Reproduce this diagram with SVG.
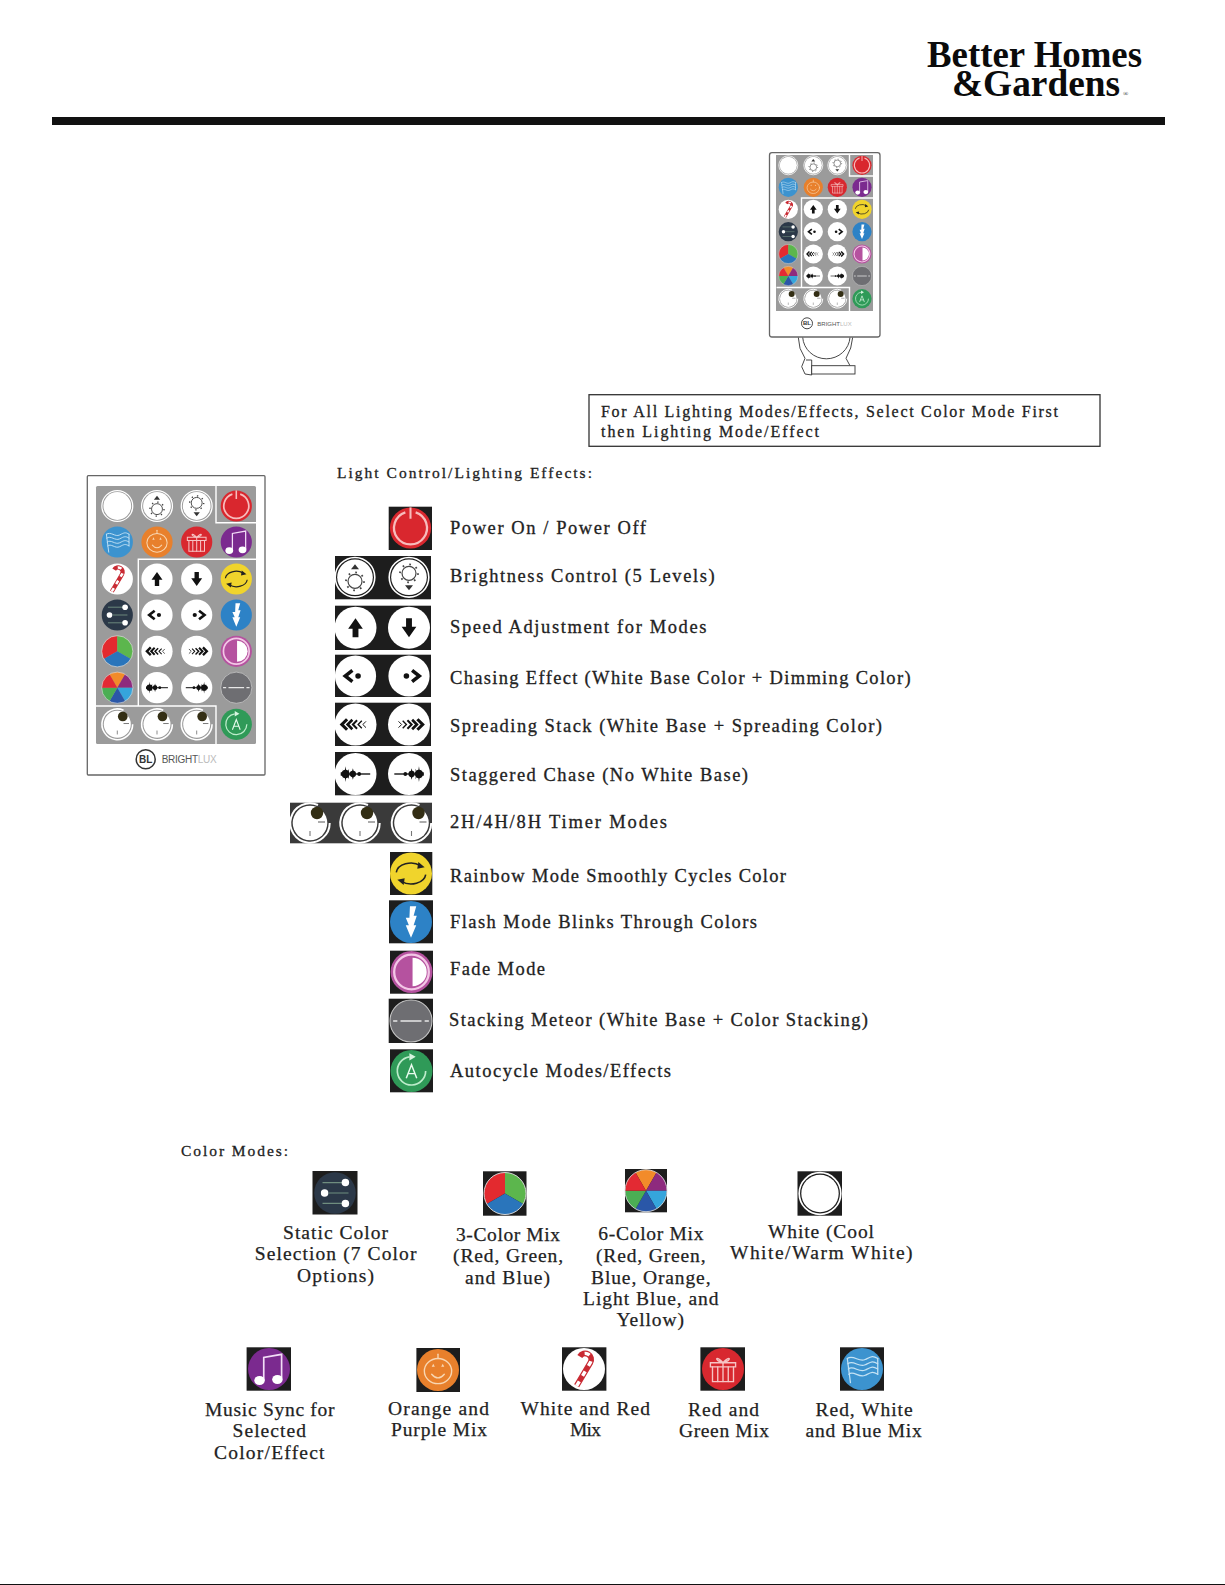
<svg xmlns="http://www.w3.org/2000/svg" xmlns:xlink="http://www.w3.org/1999/xlink" width="1225" height="1585" viewBox="0 0 1225 1585">
<style>
text{font-family:"Liberation Serif","Times New Roman",serif;fill:#222}
.l{font-size:18.500px;stroke:#222;stroke-width:.3}
.h{font-size:15.500px;stroke:#222;stroke-width:.3}
.c{font-size:19.500px;stroke:#222;stroke-width:.25}
.b{font-size:16px;stroke:#222;stroke-width:.3}
.logo{font-weight:bold;fill:#0b0b0b}
.tile{fill:#1d1d1d}
.ring{fill:none;stroke:#fff;stroke-width:1.6}
.pale{fill:none;stroke-linecap:round}
.panel{fill:#9b9b9b}
.shell{fill:#fff;stroke:#666;stroke-width:1.3}
.sep{fill:none;stroke:#fff;stroke-width:1.4}
.bt{font-family:"Liberation Sans",Arial,sans-serif;fill:#555}
</style>
<defs>
<g id="sunU"><circle r="7" fill="none" stroke="#444" stroke-width="1.200"/><circle r="9" fill="none" stroke="#444" stroke-width="1.800" stroke-dasharray="1.700 5.370"/></g>
<g id="i-white"><circle r="19.800" class="ring"/><circle r="17.800" fill="#fff"/></g>
<g id="i-bup"><circle r="19.800" class="ring"/><circle r="17.800" fill="#fff"/><use xlink:href="#sunU" y="4"/><path d="M-4,-8 L4,-8 L0,-13Z" fill="#333"/></g>
<g id="i-bdn"><circle r="19.800" class="ring"/><circle r="17.800" fill="#fff"/><use xlink:href="#sunU" y="-4"/><path d="M-4,8 L4,8 L0,13Z" fill="#333"/></g>
<g id="i-power"><circle r="20" fill="#d9272e"/><path d="M-5,-15.200 A16,16 0 1 0 5,-15.200" fill="none" stroke="#f7bcbc" stroke-width="2.200"/><path d="M0,-20 V-9" stroke="#f7bcbc" stroke-width="2"/></g>
<g id="i-flag"><circle r="20" fill="#3c93cf"/><g class="pale" stroke="#c4e2f4" stroke-width="1.200"><path d="M-14,-10 L-11,13"/><path d="M-14,-10 C-8,-14 -3,-6 3,-9 S10,-13 15,-10"/><path d="M-13.500,-5 C-8,-9 -3,-1 3,-4 S10,-8 15,-5"/><path d="M-13,0 C-8,-4 -3,4 3,1 S10,-3 15,0"/><path d="M-12.500,5 C-8,1 -3,9 3,6 S10,2 15,5"/><path d="M15,-10 V5"/></g></g>
<g id="i-pumpkin"><circle r="20" fill="#e8802c"/><g class="pale" stroke="#f8d6b2" stroke-width="1.300"><ellipse cy="1" rx="13" ry="12"/><path d="M0,-11 V-15"/><path d="M-6,4 Q0,11 6,4"/></g><path d="M-6,-3 L-3,-3 L-4.500,-6Z M3,-3 L6,-3 L4.500,-6Z" fill="#f8d6b2"/></g>
<g id="i-gift"><circle r="20" fill="#d8282f"/><g class="pale" stroke="#f6c4c4" stroke-width="1.300"><path d="M-12,-6 H12 V-2 H-12Z"/><path d="M-10,-2 V12 H10 V-2"/><path d="M-5,-2 V12 M0,-6 V12 M5,-2 V12"/><path d="M0,-6 C-7,-14 -9,-8 0,-6 C7,-14 9,-8 0,-6"/></g></g>
<g id="i-music"><circle r="20" fill="#7b2a8f"/><path d="M-5,11 V-11 L12,-14 V9" fill="none" stroke="#f2dcf6" stroke-width="1.600"/><ellipse cx="-9" cy="11" rx="5" ry="4.300" fill="#fff"/><ellipse cx="8" cy="10" rx="5" ry="4.300" fill="#fff"/></g>
<g id="i-cane"><circle r="20" fill="#fff"/><path d="M-7,16 L6,-6 A5.500,5.500 0 0 0 -4,-12" fill="none" stroke="#c92a33" stroke-width="5.500"/><path d="M-7,16 L6,-6 A5.500,5.500 0 0 0 -4,-12" fill="none" stroke="#fff" stroke-width="3.200" stroke-dasharray="5 6"/></g>
<g id="i-static"><circle r="20" fill="#2b3848"/><path d="M-12,-10 H8 M-6,0 H13 M-12,10 H8" stroke="#6f8d7f" stroke-width="1.200"/><circle cx="10" cy="-10" r="3.600" fill="#fff"/><circle cx="-10" cy="0" r="3.600" fill="#fff"/><circle cx="10" cy="10" r="3.600" fill="#fff"/></g>
<g id="i-mix3"><path d="M0,0 V-20 A20,20 0 0 0 -17.320,10Z" fill="#e32a2f"/><path d="M0,0 V-20 A20,20 0 0 1 17.320,10Z" fill="#5cb64d"/><path d="M0,0 L17.320,10 A20,20 0 0 1 -17.320,10Z" fill="#2a75bb"/><circle r="20" fill="none" stroke="#ddd" stroke-width=".9"/></g>
<g id="i-mix6"><path d="M0,0 L-10,-17.320 A20,20 0 0 1 10,-17.320Z" fill="#f28b2a"/><path d="M0,0 L10,-17.320 A20,20 0 0 1 20,0Z" fill="#8e2a7e"/><path d="M0,0 L20,0 A20,20 0 0 1 10,17.320Z" fill="#35a5dc"/><path d="M0,0 L10,17.320 A20,20 0 0 1 -10,17.320Z" fill="#2a57a8"/><path d="M0,0 L-10,17.320 A20,20 0 0 1 -20,0Z" fill="#4bae54"/><path d="M0,0 L-20,0 A20,20 0 0 1 -10,-17.320Z" fill="#e32a33"/><circle r="20" fill="none" stroke="#ddd" stroke-width=".8"/></g>
<g id="i-up"><circle r="20" fill="#fff"/><path d="M0,-9 L7,1 H2.800 V9 H-2.800 V1 H-7Z" fill="#111"/></g>
<g id="i-down"><circle r="20" fill="#fff"/><path d="M0,9 L7,-1 H2.800 V-9 H-2.800 V-1 H-7Z" fill="#111"/></g>
<g id="i-chL"><circle r="20" fill="#fff"/><path d="M-3,-5.500 L-10,0 L-3,5.500" fill="none" stroke="#111" stroke-width="3.400"/><circle cx="2.500" r="2.700" fill="#111"/></g>
<g id="i-chR"><circle r="20" fill="#fff"/><path d="M3,-5.500 L10,0 L3,5.500" fill="none" stroke="#111" stroke-width="3.400"/><circle cx="-2.500" r="2.700" fill="#111"/></g>
<g id="spm" fill="none" stroke="#111"><path d="M-8,-5 L-13,0 L-8,5" stroke-width="3"/><path d="M-3,-4.500 L-7.500,0 L-3,4.500" stroke-width="2.500"/><path d="M1.500,-4 L-2.500,0 L1.500,4" stroke-width="1.900"/><path d="M6,-3.500 L2.500,0 L6,3.500" stroke-width="1.300"/><path d="M10,-3 L7,0 L10,3" stroke-width=".9"/></g>
<g id="i-spL"><circle r="20" fill="#fff"/><use xlink:href="#spm"/></g>
<g id="i-spR"><circle r="20" fill="#fff"/><use xlink:href="#spm" transform="scale(-1,1)"/></g>
<g id="stm"><path d="M-14,0 H14" stroke="#111" stroke-width="1.300"/><circle cx="-9.500" r="4" fill="#111"/><circle cx="-2.500" r="3" fill="#111"/><circle cx="3.500" r="1.800" fill="#111"/><path d="M-14,-2 L-9.500,0 L-13,-5 L-10.500,-1 L-9.500,-7.500 L-8.500,-1 L-6,-5 L-7,0 L-6,5 L-8.500,1 L-9.500,7.500 L-10.500,1 L-13,5 L-9.500,0 L-14,2Z M-2.500,-5.500 L-1,0 L-2.500,5.500 L-4,0Z" fill="#111"/></g>
<g id="i-stL"><circle r="20" fill="#fff"/><use xlink:href="#stm"/></g>
<g id="i-stR"><circle r="20" fill="#fff"/><use xlink:href="#stm" transform="scale(-1,1)"/></g>
<g id="i-rainbow"><circle r="20" fill="#f0d42c"/><path d="M-14,-1 A14,10 0 0 1 9,-7.500" fill="none" stroke="#222" stroke-width="1.500"/><path d="M7,-11 L13,-6 L6,-4.500Z" fill="#222"/><path d="M14,1 A14,10 0 0 1 -9,7.500" fill="none" stroke="#222" stroke-width="1.500"/><path d="M-7,11 L-13,6 L-6,4.500Z" fill="#222"/></g>
<g id="i-flash"><circle r="20" fill="#2d82c6"/><path d="M-1,-15 L5,-15 L2.500,-6 L5.500,-6 L2.500,3 L5,3 L0,15 L-5,3 L-2,3 L-5,-4 L-1.500,-4Z" fill="#fff"/></g>
<g id="i-fade"><circle r="20" fill="#b5529f"/><circle r="16.500" fill="none" stroke="#f3c6e6" stroke-width="2.200"/><path d="M1,-13.500 A13.500,13.500 0 0 1 1,13.500Z" fill="#fff"/></g>
<g id="i-meteor"><circle r="20" fill="#6e6e72" stroke="#c8c8c8" stroke-width="1"/><path d="M-17,0 H-13 M-10,0 H10 M13,0 H17" stroke="#e8e8e8" stroke-width="1.600"/></g>
<g id="i-timer"><circle r="17.300" fill="#fff"/><path d="M8,-18 A19.700,19.700 0 1 0 19.700,0" fill="none" stroke="#fff" stroke-width="2"/><path d="M0,8 V13" stroke="#777" stroke-width="1.100"/><path d="M8,-1 H15" stroke="#666" stroke-width="1.100"/><circle cx="7" cy="-10" r="6.200" fill="#332e14"/></g>
<g id="i-auto"><circle r="20" fill="#2f9a58"/><path d="M-2,-13.500 A13.500,13.500 0 1 0 13.500,0" fill="none" stroke="#bdeccb" stroke-width="1.600"/><path d="M-2,-17 L4,-13.500 L-2,-10Z" fill="#d8f5e0"/><path d="M-5,7 L0,-6 L5,7 M-3.500,2.500 H3.500" fill="none" stroke="#e8fbee" stroke-width="1.400"/></g>
</defs>

<rect width="1225" height="1585" fill="#fff"/>

<g id="header-logo">
<text class="logo" font-size="38.500"><tspan x="927" y="67" textLength="215" lengthAdjust="spacingAndGlyphs">Better Homes</tspan><tspan x="952" y="96" textLength="168" lengthAdjust="spacingAndGlyphs">&amp;Gardens</tspan></text>
<text x="1123" y="96" font-size="7">®</text>
</g>
<rect id="header-rule" x="52" y="117" width="1113" height="8" fill="#111"/>

<g id="remote-small">
<path d="M798.300,337.300 L800,348.300 L805,358.300 L801.700,366.700 L805,374 L811.700,375 V360 H806 M852.700,337.300 L850.700,348 L846,358.300 L850,365.700 M802.700,337.300 A23.700,23 0 0 0 850,337.300" fill="none" stroke="#333" stroke-width=".9"/>
<rect x="811.700" y="365.700" width="43.300" height="8.300" fill="#fff" stroke="#333" stroke-width=".9"/>
<rect class="shell" x="769.500" y="152.700" width="110.500" height="184.300" rx="2.500"/>
<rect class="panel" x="776" y="155" width="97" height="156"/>
<path class="sep" d="M849.500,155 V176 H873 M801.500,287.500 V198 H873 M776.500,287.500 H849.500 V311"/>
<g transform="translate(788.300,165.300) scale(.48)"><use xlink:href="#i-white"/></g>
<g transform="translate(813.300,165.300) scale(.48)"><use xlink:href="#i-bup"/></g>
<g transform="translate(837.300,165.300) scale(.48)"><use xlink:href="#i-bdn"/></g>
<g transform="translate(862,165.300) scale(.48)"><use xlink:href="#i-power"/></g>
<g transform="translate(788.300,187.300) scale(.48)"><use xlink:href="#i-flag"/></g>
<g transform="translate(813.300,187.300) scale(.48)"><use xlink:href="#i-pumpkin"/></g>
<g transform="translate(837.300,187.300) scale(.48)"><use xlink:href="#i-gift"/></g>
<g transform="translate(862,187.300) scale(.48)"><use xlink:href="#i-music"/></g>
<g transform="translate(788.300,209.300) scale(.48)"><use xlink:href="#i-cane"/></g>
<g transform="translate(813.300,209.300) scale(.48)"><use xlink:href="#i-up"/></g>
<g transform="translate(837.300,209.300) scale(.48)"><use xlink:href="#i-down"/></g>
<g transform="translate(862,209.300) scale(.48)"><use xlink:href="#i-rainbow"/></g>
<g transform="translate(788.300,231.700) scale(.48)"><use xlink:href="#i-static"/></g>
<g transform="translate(813.300,231.700) scale(.48)"><use xlink:href="#i-chL"/></g>
<g transform="translate(837.300,231.700) scale(.48)"><use xlink:href="#i-chR"/></g>
<g transform="translate(862,231.700) scale(.48)"><use xlink:href="#i-flash"/></g>
<g transform="translate(788.300,254) scale(.48)"><use xlink:href="#i-mix3"/></g>
<g transform="translate(813.300,254) scale(.48)"><use xlink:href="#i-spL"/></g>
<g transform="translate(837.300,254) scale(.48)"><use xlink:href="#i-spR"/></g>
<g transform="translate(862,254) scale(.48)"><use xlink:href="#i-fade"/></g>
<g transform="translate(788.300,276) scale(.48)"><use xlink:href="#i-mix6"/></g>
<g transform="translate(813.300,276) scale(.48)"><use xlink:href="#i-stL"/></g>
<g transform="translate(837.300,276) scale(.48)"><use xlink:href="#i-stR"/></g>
<g transform="translate(862,276) scale(.48)"><use xlink:href="#i-meteor"/></g>
<g transform="translate(788.300,298.700) scale(.48)"><use xlink:href="#i-timer"/></g>
<g transform="translate(813.300,298.700) scale(.48)"><use xlink:href="#i-timer"/></g>
<g transform="translate(837.300,298.700) scale(.48)"><use xlink:href="#i-timer"/></g>
<g transform="translate(862,298.700) scale(.48)"><use xlink:href="#i-auto"/></g>
<circle cx="807" cy="323.300" r="5.500" fill="#fff" stroke="#333" stroke-width=".9"/>
<text class="bt" x="807" y="325.300" font-size="6" font-weight="bold" text-anchor="middle" style="fill:#333">BL</text>
<text class="bt" x="817.300" y="326" font-size="6" textLength="34.400">BRIGHT<tspan fill="#bbb">LUX</tspan></text>
</g>

<g id="note-box">
<rect x="589" y="394.700" width="511" height="51.600" fill="#fff" stroke="#333" stroke-width="1.300"/>
<text class="b" x="601" y="416.500" textLength="457">For All Lighting Modes/Effects, Select Color Mode First</text>
<text class="b" x="601" y="436.500" textLength="218">then Lighting Mode/Effect</text>
</g>

<g id="remote-large">
<rect class="shell" x="87.300" y="475.700" width="177.700" height="299.300" rx="1"/>
<rect class="panel" x="96" y="486" width="160" height="258" rx="1.500"/>
<path class="sep" d="M216,486 V522.700 H256 M138.300,706 V559.300 H256 M96,706 H216 V744"/>
<g transform="translate(117.300,506) scale(.78)"><use xlink:href="#i-white"/></g>
<g transform="translate(157,506) scale(.78)"><use xlink:href="#i-bup"/></g>
<g transform="translate(196.700,506) scale(.78)"><use xlink:href="#i-bdn"/></g>
<g transform="translate(236.300,506) scale(.78)"><use xlink:href="#i-power"/></g>
<g transform="translate(117.300,542) scale(.78)"><use xlink:href="#i-flag"/></g>
<g transform="translate(157,542) scale(.78)"><use xlink:href="#i-pumpkin"/></g>
<g transform="translate(196.700,542) scale(.78)"><use xlink:href="#i-gift"/></g>
<g transform="translate(236.300,542) scale(.78)"><use xlink:href="#i-music"/></g>
<g transform="translate(117.300,579) scale(.78)"><use xlink:href="#i-cane"/></g>
<g transform="translate(157,579) scale(.78)"><use xlink:href="#i-up"/></g>
<g transform="translate(196.700,579) scale(.78)"><use xlink:href="#i-down"/></g>
<g transform="translate(236.300,579) scale(.78)"><use xlink:href="#i-rainbow"/></g>
<g transform="translate(117.300,615) scale(.78)"><use xlink:href="#i-static"/></g>
<g transform="translate(157,615) scale(.78)"><use xlink:href="#i-chL"/></g>
<g transform="translate(196.700,615) scale(.78)"><use xlink:href="#i-chR"/></g>
<g transform="translate(236.300,615) scale(.78)"><use xlink:href="#i-flash"/></g>
<g transform="translate(117.300,651.300) scale(.78)"><use xlink:href="#i-mix3"/></g>
<g transform="translate(157,651.300) scale(.78)"><use xlink:href="#i-spL"/></g>
<g transform="translate(196.700,651.300) scale(.78)"><use xlink:href="#i-spR"/></g>
<g transform="translate(236.300,651.300) scale(.78)"><use xlink:href="#i-fade"/></g>
<g transform="translate(117.300,687.700) scale(.78)"><use xlink:href="#i-mix6"/></g>
<g transform="translate(157,687.700) scale(.78)"><use xlink:href="#i-stL"/></g>
<g transform="translate(196.700,687.700) scale(.78)"><use xlink:href="#i-stR"/></g>
<g transform="translate(236.300,687.700) scale(.78)"><use xlink:href="#i-meteor"/></g>
<g transform="translate(117.300,724.300) scale(.78)"><use xlink:href="#i-timer"/></g>
<g transform="translate(157,724.300) scale(.78)"><use xlink:href="#i-timer"/></g>
<g transform="translate(196.700,724.300) scale(.78)"><use xlink:href="#i-timer"/></g>
<g transform="translate(236.300,724.300) scale(.78)"><use xlink:href="#i-auto"/></g>
<circle cx="145.700" cy="759.300" r="9.500" fill="#fff" stroke="#333" stroke-width="1.500"/>
<text class="bt" x="145.700" y="763" font-size="10" font-weight="bold" text-anchor="middle" style="fill:#333">BL</text>
<text class="bt" x="161.700" y="763" font-size="10" textLength="55">BRIGHT<tspan fill="#bbb">LUX</tspan></text>
</g>

<text class="h" x="337" y="478" textLength="255">Light Control/Lighting Effects:</text>

<g id="effect-power"><rect class="tile" x="388.700" y="506.700" width="43.300" height="43.300"/><g transform="translate(410.500,528) scale(1.030)"><use xlink:href="#i-power"/></g><text class="l" x="450" y="533.700" textLength="196">Power On / Power Off</text></g>
<g id="effect-brightness"><rect class="tile" x="335" y="556" width="96" height="43.300"/><g transform="translate(355,577.300)"><use xlink:href="#i-bup"/></g><g transform="translate(409,577.300)"><use xlink:href="#i-bdn"/></g><text class="l" x="450" y="582" textLength="264.600">Brightness Control (5 Levels)</text></g>
<g id="effect-speed"><rect class="tile" x="335" y="605.700" width="96" height="44.300"/><g transform="translate(355.500,627.700) scale(1.050)"><use xlink:href="#i-up"/></g><g transform="translate(409,627.700) scale(1.050)"><use xlink:href="#i-down"/></g><text class="l" x="450" y="633.300" textLength="256.500">Speed Adjustment for Modes</text></g>
<g id="effect-chasing"><rect class="tile" x="335" y="654.700" width="96" height="42.300"/><g transform="translate(355.500,676) scale(1.030)"><use xlink:href="#i-chL"/></g><g transform="translate(409,676) scale(1.030)"><use xlink:href="#i-chR"/></g><text class="l" x="450" y="684" textLength="460.600">Chasing Effect (White Base Color + Dimming Color)</text></g>
<g id="effect-spreading"><rect class="tile" x="335" y="702.700" width="96" height="43.300"/><g transform="translate(355.500,724.500) scale(1.050)"><use xlink:href="#i-spL"/></g><g transform="translate(409,724.500) scale(1.050)"><use xlink:href="#i-spR"/></g><text class="l" x="450" y="732.300" textLength="432">Spreading Stack (White Base + Spreading Color)</text></g>
<g id="effect-staggered"><rect class="tile" x="335" y="752" width="97" height="43.300"/><g transform="translate(355.500,774) scale(1.050)"><use xlink:href="#i-stL"/></g><g transform="translate(409,774) scale(1.050)"><use xlink:href="#i-stR"/></g><text class="l" x="450" y="781" textLength="298">Staggered Chase (No White Base)</text></g>
<g id="effect-timer"><rect x="290" y="802.700" width="142" height="40.600" fill="#3a3a3a"/><g transform="translate(310,823)"><use xlink:href="#i-timer"/></g><g transform="translate(360,823)"><use xlink:href="#i-timer"/></g><g transform="translate(411.500,823)"><use xlink:href="#i-timer"/></g><text class="l" x="450" y="828.300" textLength="217">2H/4H/8H Timer Modes</text></g>
<g id="effect-rainbow"><rect class="tile" x="390" y="852" width="42.300" height="43"/><g transform="translate(411,873.500) scale(1.050)"><use xlink:href="#i-rainbow"/></g><text class="l" x="450" y="882.300" textLength="336">Rainbow Mode Smoothly Cycles Color</text></g>
<g id="effect-flash"><rect class="tile" x="389" y="900.300" width="44" height="43"/><g transform="translate(411,922) scale(1.050)"><use xlink:href="#i-flash"/></g><text class="l" x="450" y="928.300" textLength="307">Flash Mode Blinks Through Colors</text></g>
<g id="effect-fade"><rect class="tile" x="390" y="950.700" width="43" height="43"/><g transform="translate(411.500,972) scale(1.050)"><use xlink:href="#i-fade"/></g><text class="l" x="450" y="975" textLength="95">Fade Mode</text></g>
<g id="effect-meteor"><rect class="tile" x="388.700" y="998.700" width="44.300" height="44.300"/><g transform="translate(411,1021) scale(1.050)"><use xlink:href="#i-meteor"/></g><text class="l" x="449" y="1025.700" textLength="419">Stacking Meteor (White Base + Color Stacking)</text></g>
<g id="effect-auto"><rect class="tile" x="390" y="1049.300" width="43" height="43"/><g transform="translate(411.500,1071) scale(1.050)"><use xlink:href="#i-auto"/></g><text class="l" x="450" y="1077.300" textLength="221">Autocycle Modes/Effects</text></g>

<text class="h" x="181" y="1156" textLength="107">Color Modes:</text>

<g id="color-static"><rect class="tile" x="312.500" y="1171" width="45" height="43.500"/><g transform="translate(335,1193) scale(1.040)"><use xlink:href="#i-static"/></g>
<text class="c" x="283" y="1239" textLength="105">Static Color</text><text class="c" x="254.700" y="1260.300" textLength="161.700">Selection (7 Color</text><text class="c" x="297" y="1282" textLength="77">Options)</text></g>
<g id="color-mix3"><rect class="tile" x="483" y="1171.300" width="43.500" height="44.400"/><g transform="translate(505,1193.500) scale(1.050)"><use xlink:href="#i-mix3"/></g>
<text class="c" x="456" y="1240.700" textLength="104">3-Color Mix</text><text class="c" x="453" y="1262.300" textLength="110">(Red, Green,</text><text class="c" x="465" y="1284" textLength="85">and Blue)</text></g>
<g id="color-mix6"><rect class="tile" x="625" y="1169" width="42" height="43.300"/><g transform="translate(646,1190.700) scale(1.050)"><use xlink:href="#i-mix6"/></g>
<text class="c" x="598.300" y="1240" textLength="105.200">6-Color Mix</text><text class="c" x="596" y="1261.700" textLength="109.500">(Red, Green,</text><text class="c" x="591" y="1284" textLength="119.500">Blue, Orange,</text><text class="c" x="583" y="1305" textLength="135.600">Light Blue, and</text><text class="c" x="616.500" y="1325.700" textLength="67.500">Yellow)</text></g>
<g id="color-white"><rect class="tile" x="797.500" y="1171.300" width="44.500" height="44.400"/><g transform="translate(820,1193.500) scale(1.050)"><use xlink:href="#i-white"/></g>
<text class="c" x="768" y="1238" textLength="106">White (Cool</text><text class="c" x="730" y="1259" textLength="182.600">White/Warm White)</text></g>

<g id="color-music"><rect class="tile" x="246.600" y="1347.300" width="44.400" height="43.400"/><g transform="translate(269,1369) scale(1.050)"><use xlink:href="#i-music"/></g>
<text class="c" x="205" y="1415.700" textLength="129.500">Music Sync for</text><text class="c" x="232.500" y="1436.700" textLength="73.500">Selected</text><text class="c" x="214" y="1459" textLength="110.500">Color/Effect</text></g>
<g id="color-pumpkin"><rect class="tile" x="416.400" y="1348" width="43.600" height="44"/><g transform="translate(438,1370) scale(1.050)"><use xlink:href="#i-pumpkin"/></g>
<text class="c" x="388" y="1415" textLength="101">Orange and</text><text class="c" x="391" y="1436" textLength="96">Purple Mix</text></g>
<g id="color-cane"><rect class="tile" x="562" y="1347.300" width="44.400" height="43.400"/><g transform="translate(584,1369) scale(1.050)"><use xlink:href="#i-cane"/></g>
<text class="c" x="520.500" y="1415" textLength="129.500">White and Red</text><text class="c" x="570" y="1436" textLength="31">Mix</text></g>
<g id="color-gift"><rect class="tile" x="700.400" y="1347.300" width="44.600" height="43.400"/><g transform="translate(723,1369) scale(1.050)"><use xlink:href="#i-gift"/></g>
<text class="c" x="688" y="1415.700" textLength="71">Red and</text><text class="c" x="679" y="1436.700" textLength="90">Green Mix</text></g>
<g id="color-flag"><rect class="tile" x="840" y="1347.300" width="44" height="43.400"/><g transform="translate(862,1369) scale(1.050)"><use xlink:href="#i-flag"/></g>
<text class="c" x="815.600" y="1415.700" textLength="97">Red, White</text><text class="c" x="805.500" y="1436.700" textLength="116.300">and Blue Mix</text></g>

<rect id="page-edge" x="0" y="1584" width="1225" height="1" fill="#111"/>
</svg>
